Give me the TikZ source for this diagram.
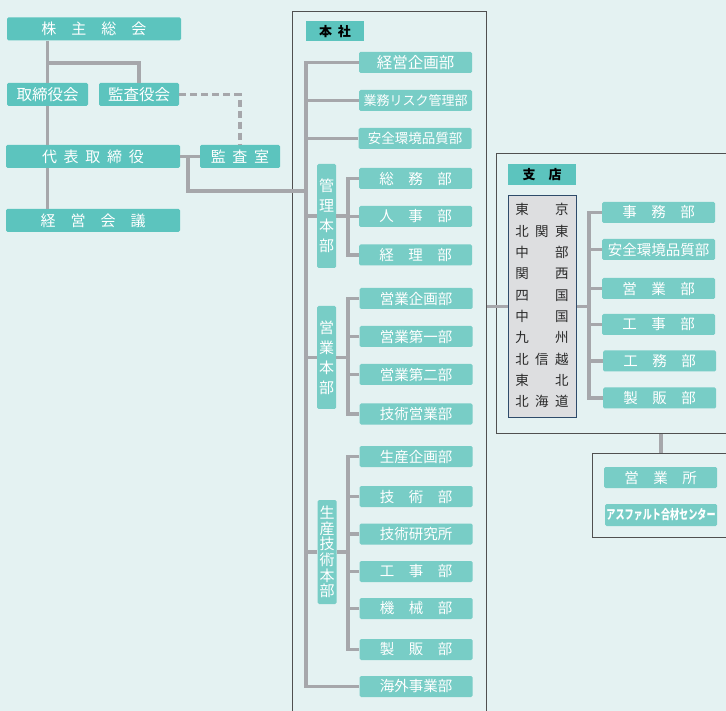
\documentclass[tikz,border=0pt]{standalone}
\usepackage{fontspec}
\setmainfont{Noto Sans CJK JP}
\usepackage{graphicx}
\definecolor{bgc}{HTML}{E4F2F2}
\definecolor{topc}{HTML}{5CC4BE}
\definecolor{deptc}{HTML}{78CDC6}
\definecolor{linec}{HTML}{A6A7AB}
\definecolor{framec}{HTML}{505050}
\definecolor{cityc}{HTML}{DDDEE0}
\definecolor{cityedge}{HTML}{2E4B6A}
\definecolor{cityt}{HTML}{2A2A2A}
\newcommand{\hk}{\hspace{.45em}}
\tikzset{
  conn/.style={draw=linec, line width=3.3pt},
  audit/.style={conn, dash pattern=on 7pt off 4pt},
  topbox/.style={fill=topc, text=white, rounded corners=1.5pt, inner sep=0pt, minimum height=23pt, font=\fontsize{15}{15}\selectfont},
  wide/.style={topbox, minimum width=174pt},
  narrow/.style={topbox, minimum width=80pt},
  dept/.style={fill=deptc, text=white, rounded corners=1.5pt, inner sep=0pt, minimum width=113pt, minimum height=21pt, font=\fontsize{14.5}{14.5}\selectfont},
  honbu/.style={dept, minimum width=19pt, text width=19pt, align=center, font=\fontsize{15}{20}\selectfont},
  boxframe/.style={draw=framec, line width=1.2pt, inner sep=0pt, anchor=north west},
  labelbox/.style={fill=topc, text=black, inner sep=0pt, minimum height=20pt, font=\bfseries\fontsize{13}{13}\selectfont},
  citybox/.style={fill=cityc, draw=cityedge, line width=1pt, inner sep=0pt, minimum width=68pt, minimum height=221pt, text=cityt, font=\fontsize{13.5}{21.3}\selectfont},
}
\begin{document}
\begin{tikzpicture}[x=1pt, y=-1pt]
    % --- 背景与边界 ---
    \useasboundingbox[fill=bgc] (0,0) rectangle (726,711);
    \def\trunkX{306}     % 本社 主干线
    \def\subX{348}       % 各本部 分支线
    \def\shitenX{589}    % 支店 分支线

    % --- 外框 ---
    \node[boxframe, minimum width=194pt, minimum height=730pt] (honshaframe) at (292,11) {};
    \node[boxframe, minimum width=250pt, minimum height=280pt] (shitenframe) at (496,153) {};
    \node[boxframe, minimum width=150pt, minimum height=84pt] (eigyoshoframe) at (592,453) {};

    % --- 左侧：经营层 ---
    \node[wide] (kabunushi) at (94,29) {株　主　総　会};
    \node[narrow, minimum width=81pt, font=\fontsize{15.5}{15.5}\selectfont] (torishimari) at (47.5,94.5) {取締役会};
    \node[narrow, font=\fontsize{15.5}{15.5}\selectfont] (kansayaku) at (139,94.5) {監査役会};
    \node[wide] (daihyo) at (93,156.5) {代\hk 表\hk 取\hk 締\hk 役};
    \node[narrow] (kansashitsu) at (240,156.5) {監\hk 査\hk 室};
    \node[wide] (keieikaigi) at (93,220.5) {経　営　会　議};

    \coordinate (kansabranch) at (47.5,63);
    \coordinate (hqin) at (188,191);
    \draw[conn] (kabunushi.south -| torishimari.north) -- (torishimari.north);
    \draw[conn] (torishimari.south) -- (daihyo.north -| torishimari.south);
    \draw[conn] (daihyo.south -| torishimari.south) -- (keieikaigi.north -| torishimari.south);
    \draw[conn] (kansabranch) -| (kansayaku.north);
    \draw[audit] (kansayaku.east) -| (kansashitsu.north);
    \draw[conn] (daihyo.east) -- (kansashitsu.west);
    \draw[conn] (daihyo.east -| hqin) -- (hqin) -- (hqin -| \trunkX,0);

    % --- 本社 ---
    \node[labelbox, minimum width=58pt] (honsha) at (335,31.5) {本\hk 社};
    \node[dept, font=\fontsize{15.5}{15.5}\selectfont] (keieikikaku) at (415.5,62.5) {経営企画部};
    \node[dept, font=\fontsize{13}{13}\selectfont] (gyomurisk) at (415.5,100.5) {業務リスク管理部};
    \node[dept, font=\fontsize{13.5}{13.5}\selectfont] (anzen) at (415,138.5) {安全環境品質部};

    \node[honbu, minimum height=104pt] (kanri) at (326.5,216) {管\\理\\本\\部};
    \node[dept] (somu) at (415.5,178.5) {総　務　部};
    \node[dept] (jinji) at (415.5,216.5) {人　事　部};
    \node[dept] (keiri) at (415.5,255) {経　理　部};

    \node[honbu, minimum height=103pt] (eigyohonbu) at (326.5,357.5) {営\\業\\本\\部};
    \node[dept] (eigyokikaku) at (416,298.5) {営業企画部};
    \node[dept] (eigyo1) at (416,336.5) {営業第一部};
    \node[dept] (eigyo2) at (416,374.5) {営業第二部};
    \node[dept] (gijutsueigyo) at (416,414) {技術営業部};

    \node[honbu, minimum height=104pt, font=\fontsize{15}{15.7}\selectfont] (seisanhonbu) at (327,552) {生\\産\\技\\術\\本\\部};
    \node[dept] (seisankikaku) at (416,456.5) {生産企画部};
    \node[dept] (gijutsu) at (416,496.5) {技　術　部};
    \node[dept] (kenkyu) at (416,534) {技術研究所};
    \node[dept] (koji) at (416,571.5) {工　事　部};
    \node[dept] (kikai) at (416,608.5) {機　械　部};
    \node[dept] (seihan) at (416,649.5) {製　販　部};
    \node[dept] (kaigai) at (416,686.5) {海外事業部};

    % 主干线
    \coordinate (trunk) at (\trunkX,62);
    \draw[conn] (keieikikaku.west) -| (trunk |- kaigai.west) -- (kaigai.west);
    \draw[conn] (gyomurisk.west) -- (gyomurisk.west -| trunk);
    \draw[conn] (anzen.west) -- (anzen.west -| trunk);
    \draw[conn] (kanri.west) -- (kanri.west -| trunk);
    \draw[conn] (eigyohonbu.west) -- (eigyohonbu.west -| trunk);
    \draw[conn] (seisanhonbu.west) -- (seisanhonbu.west -| trunk);

    % 各本部的分支
    \coordinate (sub) at (\subX,0);
    \draw[conn] (somu.west) -| (sub |- keiri.west) -- (keiri.west);
    \draw[conn] (kanri.east) -- (kanri.east -| sub);
    \draw[conn] (jinji.west) -- (jinji.west -| sub);
    \draw[conn] (eigyokikaku.west) -| (sub |- gijutsueigyo.west) -- (gijutsueigyo.west);
    \draw[conn] (eigyohonbu.east) -- (eigyohonbu.east -| sub);
    \draw[conn] (eigyo1.west) -- (eigyo1.west -| sub);
    \draw[conn] (eigyo2.west) -- (eigyo2.west -| sub);
    \draw[conn] (seisankikaku.west) -| (sub |- seihan.west) -- (seihan.west);
    \draw[conn] (seisanhonbu.east) -- (seisanhonbu.east -| sub);
    \draw[conn] (gijutsu.west) -- (gijutsu.west -| sub);
    \draw[conn] (kenkyu.west) -- (kenkyu.west -| sub);
    \draw[conn] (koji.west) -- (koji.west -| sub);
    \draw[conn] (kikai.west) -- (kikai.west -| sub);

    % --- 支店 ---
    \node[labelbox, minimum width=68pt, minimum height=21pt] (shiten) at (542,174.5) {支　店};
    \node[citybox] (cities) at (542,306.5) {%
      \begin{tabular}{@{}c@{\hspace{6.5pt}}c@{\hspace{6.5pt}}c@{}}
        東 & & 京\\ 北 & 関 & 東\\ 中 & & 部\\ 関 & & 西\\ 四 & & 国\\
        中 & & 国\\ 九 & & 州\\ 北 & 信 & 越\\ 東 & & 北\\ 北 & 海 & 道
      \end{tabular}};
    \node[dept] (shjimu) at (658.5,212.5) {事　務　部};
    \node[dept] (shanzen) at (658.5,249.5) {安全環境品質部};
    \node[dept] (sheigyo) at (658.5,288.5) {営　業　部};
    \node[dept] (shkoji) at (658.5,324.5) {工　事　部};
    \node[dept] (shkomu) at (659.5,361) {工　務　部};
    \node[dept] (shseihan) at (659.5,398) {製　販　部};

    \coordinate (shsub) at (\shitenX,0);
    \draw[conn] (cities.west) -- (cities.west -| honshaframe.east);
    \draw[conn] (cities.east) -- (cities.east -| shsub);
    \draw[conn] (shjimu.west) -| (shsub |- shseihan.west) -- (shseihan.west);
    \draw[conn] (shanzen.west) -- (shanzen.west -| shsub);
    \draw[conn] (sheigyo.west) -- (sheigyo.west -| shsub);
    \draw[conn] (shkoji.west) -- (shkoji.west -| shsub);
    \draw[conn] (shkomu.west) -- (shkomu.west -| shsub);

    % --- 営業所 ---
    \node[dept] (eigyosho) at (660.5,477.5) {営　業　所};
    \node[dept, minimum width=112pt, minimum height=22pt, font=\bfseries\fontsize{13}{13}\selectfont] (asphalt) at (661,515) {\scalebox{0.7}[1]{アスファルト合材センター}};
    \coordinate (drop) at (661,0);
    \draw[conn] (shitenframe.south -| drop) -- (eigyoshoframe.north -| drop);

\end{tikzpicture}
\end{document}
